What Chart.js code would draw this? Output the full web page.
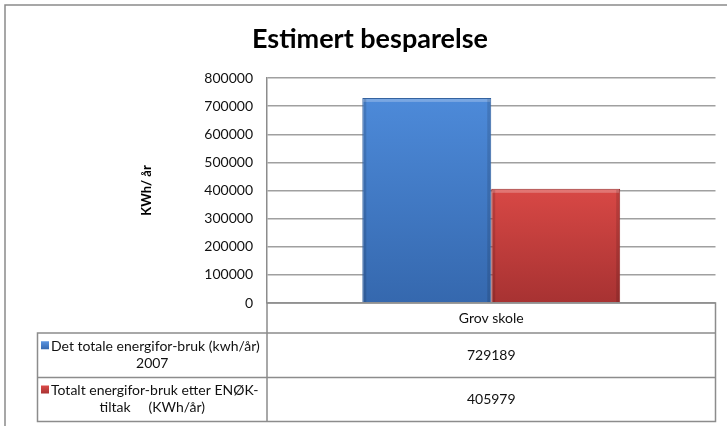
<!DOCTYPE html>
<html>
<head>
<meta charset="utf-8">
<script src="https://cdn.jsdelivr.net/npm/chart.js"></script>
<style>
  html, body { margin: 0; padding: 0; background: #fff; }
</style>
</head>
<body>
<canvas id="myChart" width="727" height="426"></canvas>
<script>
// Chart data
var categories = ['Grov skole'];
var seriesBefore = [729189];
var seriesAfter = [405979];
var seriesLabels = [
  ['Det totale energifor-bruk (kwh/år)', '2007'],
  ['Totalt energifor-bruk etter ENØK-', 'tiltak     (KWh/år)'],
];
var yTicks = [0, 100000, 200000, 300000, 400000, 500000, 600000, 700000, 800000];

var FONT = 'Lato';

// vertical gradient from the top of each bar down to the axis
function barFill(topColor, bottomColor) {
  return function (context) {
    var chart = context.chart;
    var area = chart.chartArea;
    if (!area || context.raw == null) return topColor;
    var yTop = chart.scales.y.getPixelForValue(context.raw);
    var g = chart.ctx.createLinearGradient(0, yTop, 0, area.bottom);
    g.addColorStop(0, topColor);
    g.addColorStop(1, bottomColor);
    return g;
  };
}

function legendKey(ctx, x, y, top, bottom) {
  var g = ctx.createLinearGradient(0, y, 0, y + 8);
  g.addColorStop(0, top);
  g.addColorStop(1, bottom);
  ctx.fillStyle = g;
  ctx.fillRect(x, y, 8, 8);
}

// frame, title and the data table under the plot
var tablePlugin = {
  id: 'dataTable',
  afterDatasetsDraw: function (chart) {
    var ctx = chart.ctx;
    chart.data.datasets.forEach(function (ds, i) {
      chart.getDatasetMeta(i).data.forEach(function (bar) {
        var left = bar.x - bar.width / 2;
        ctx.save();
        ctx.fillStyle = 'rgba(255,255,255,0.25)';
        ctx.fillRect(left + 1, bar.y + 1, bar.width - 2, 3);
        ctx.fillStyle = 'rgba(0,0,0,0.12)';
        ctx.fillRect(left + 1, bar.y + 1, 3, bar.base - bar.y - 1);
        ctx.fillRect(left + bar.width - 4, bar.y + 1, 3, bar.base - bar.y - 1);
        ctx.restore();
      });
    });
  },
  afterDraw: function (chart) {
    var ctx = chart.ctx;
    var area = chart.chartArea;
    var xs = chart.scales.x;
    var tableLeft = 37.5;
    var rows = [area.bottom, 333, 377.5, 421.5];

    ctx.save();
    // outer frame (only left and top visible)
    ctx.strokeStyle = '#8a8a8a';
    ctx.lineWidth = 1.5;
    ctx.beginPath();
    ctx.moveTo(5, 426);
    ctx.lineTo(5, 5);
    ctx.lineTo(727, 5);
    ctx.stroke();

    // title
    ctx.fillStyle = '#000';
    ctx.font = 'bold 27px ' + FONT;
    ctx.textAlign = 'center';
    ctx.textBaseline = 'alphabetic';
    ctx.fillText('Estimert besparelse', 370, 48);

    // table grid
    ctx.strokeStyle = '#8c8c8c';
    ctx.lineWidth = 1.5;
    ctx.beginPath();
    ctx.moveTo(area.left, rows[0]);
    ctx.lineTo(area.right, rows[0]);
    ctx.lineTo(area.right, rows[3]);
    ctx.lineTo(tableLeft, rows[3]);
    ctx.lineTo(tableLeft, rows[1]);
    ctx.lineTo(area.right, rows[1]);
    ctx.moveTo(tableLeft, rows[2]);
    ctx.lineTo(area.right, rows[2]);
    ctx.moveTo(area.left, rows[0]);
    ctx.lineTo(area.left, rows[3]);
    ctx.stroke();

    // category row
    ctx.font = '14px ' + FONT;
    ctx.fillStyle = '#111';
    ctx.textBaseline = 'middle';
    chart.data.labels.forEach(function (label, i) {
      ctx.fillText(label, xs.getPixelForValue(i), (rows[0] + rows[1]) / 2);
    });

    // series rows
    var keyColors = [['#5b95e0', '#3568b0'], ['#dc4b49', '#a83232']];
    var midLeft = (tableLeft + area.left) / 2;
    chart.data.datasets.forEach(function (ds, i) {
      var top = rows[i + 1];
      var bottom = rows[i + 2];
      var mid = (top + bottom) / 2;
      var lines = seriesLabels[i];
      legendKey(ctx, 41, mid - 14, keyColors[i][0], keyColors[i][1]);
      ctx.fillStyle = '#111';
      ctx.textAlign = 'left';
      ctx.fillText(lines[0], 51, mid - 9);
      ctx.textAlign = 'center';
      ctx.fillText(lines[1], midLeft, mid + 8);
      ds.data.forEach(function (v, j) {
        ctx.fillText(String(v), xs.getPixelForValue(j), mid);
      });
    });
    ctx.restore();
  },
};

var ctx = document.getElementById('myChart').getContext('2d');

var data = {
  labels: categories,
  datasets: [
    {
      label: seriesLabels[0].join(' '),
      data: seriesBefore,
      backgroundColor: barFill('#4d8ad9', '#3568ae'),
      borderColor: '#30609f',
      borderWidth: 1,
    },
    {
      label: seriesLabels[1].join(' '),
      data: seriesAfter,
      backgroundColor: barFill('#d84845', '#a73232'),
      borderColor: '#952c2c',
      borderWidth: 1,
    },
  ],
};

var options = {
  responsive: false,
  animation: false,
  layout: { padding: { top: 78, right: 11.5, bottom: 123, left: 0 } },
  datasets: { bar: { categoryPercentage: 0.575, barPercentage: 1 } },
  plugins: {
    legend: { display: false },
    title: { display: false },
    tooltip: { enabled: false },
  },
  scales: {
    x: {
      grid: { display: false },
      border: { display: false },
      ticks: { display: false },
      afterFit: function (scale) { scale.height = 0; },
    },
    y: {
      min: 0,
      max: 800000,
      afterBuildTicks: function (scale) {
        scale.ticks = yTicks.map(function (v) { return { value: v }; });
      },
      ticks: {
        padding: 14,
        color: '#111',
        font: { family: FONT, size: 14 },
        callback: function (v) { return String(v); },
      },
      grid: { color: '#a0a0a0', lineWidth: 1.5, drawTicks: false },
      border: { color: '#8c8c8c', width: 1.5 },
      title: {
        display: true,
        text: 'KWh/ år',
        color: '#000',
        font: { family: FONT, size: 13, weight: 'bold' },
        padding: { top: 139, bottom: 0 },
      },
      afterFit: function (scale) { scale.width = 267; },
    },
  },
};

var myChart = new Chart(ctx, {
  type: 'bar',
  data: data,
  options: options,
  plugins: [tablePlugin],
});
</script>
</body>
</html>
